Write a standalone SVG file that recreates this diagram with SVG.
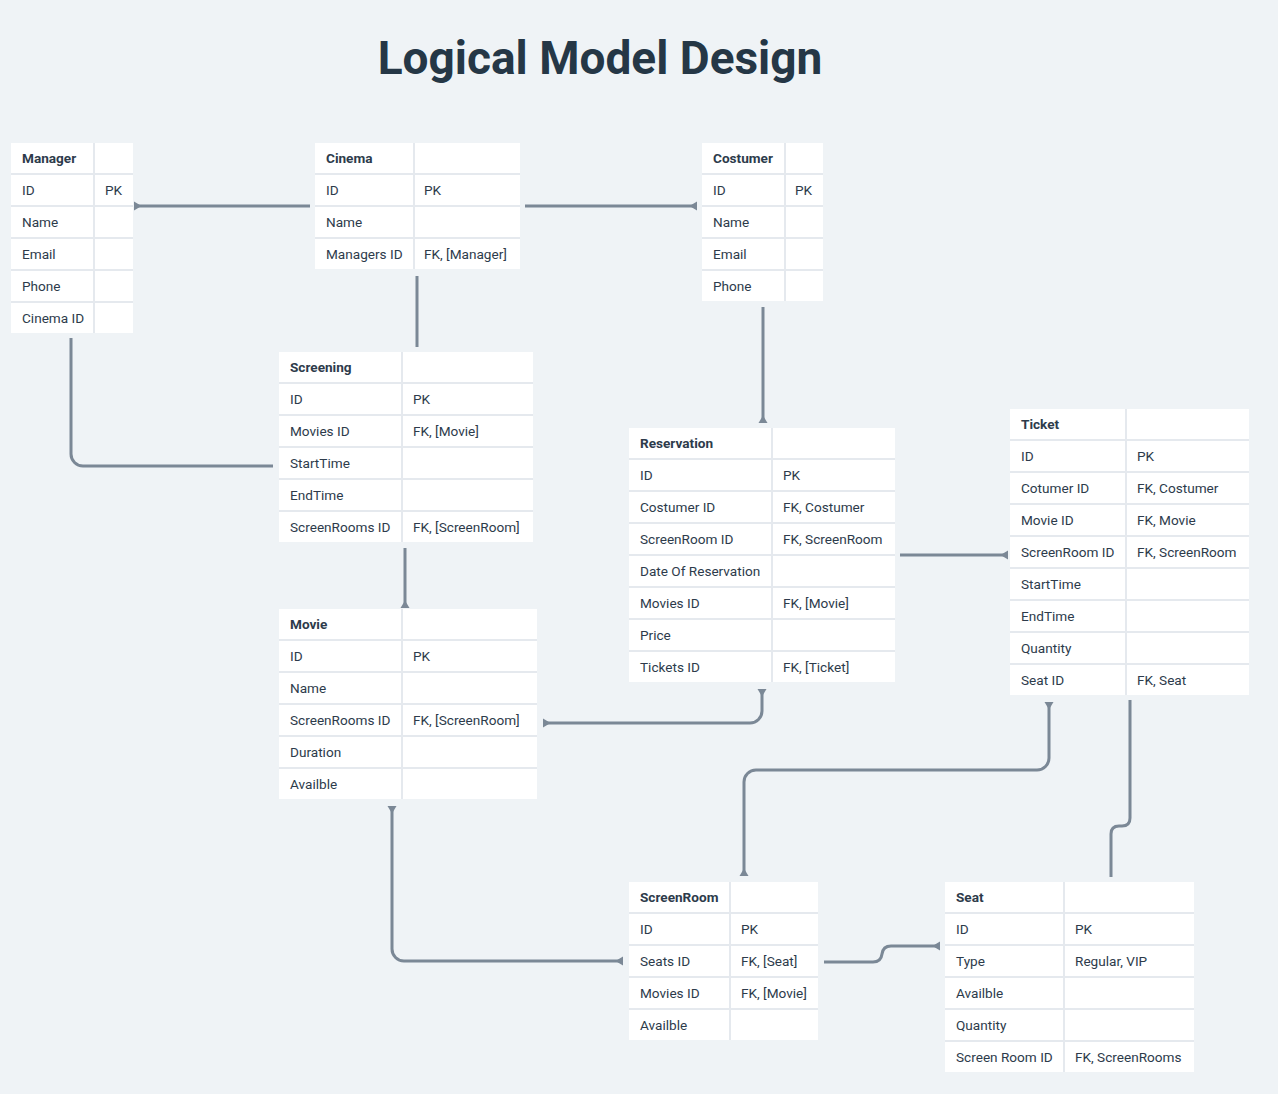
<svg xmlns="http://www.w3.org/2000/svg" width="1278" height="1094" viewBox="0 0 1278 1094">
<style>
.bg{fill:#eff3f6}
.tb{fill:#ffffff}
.g{stroke:#e5e9ee;stroke-width:2}
.t{font-family:Roboto,"Liberation Sans",sans-serif;font-size:13.6px;fill:#2d3b4b}
.h{font-weight:bold}
.title{font-family:Roboto,"Liberation Sans",sans-serif;font-size:46px;font-weight:bold;fill:#253746}
.c{fill:none;stroke:#7b8896;stroke-width:3}
</style>
<defs>
<marker id="one" markerUnits="userSpaceOnUse" markerWidth="20" markerHeight="20" refX="10" refY="10" orient="auto-start-reverse" overflow="visible">
<path d="M10,5.5 L10,14.5 L2.5,10 Z" fill="#7b8896"/>
</marker>
</defs>
<rect class="bg" x="0" y="0" width="1278" height="1094"/>
<text class="title" x="600" y="74" text-anchor="middle">Logical Model Design</text>

<g id="connectors">
<path class="c" d="M310,206 L134,206" marker-end="url(#one)"/>
<path class="c" d="M525,206 L697,206" marker-end="url(#one)"/>
<path class="c" d="M417,276 L417,347"/>
<path class="c" d="M71,338 L71,454 A12,12 0 0 0 83,466 L273,466"/>
<path class="c" d="M405,548 L405,608" marker-end="url(#one)"/>
<path class="c" d="M763,307 L763,423" marker-end="url(#one)"/>
<path class="c" d="M900,555 L1008,555" marker-end="url(#one)"/>
<path class="c" d="M762,689 L762,711 A12,12 0 0 1 750,723 L543,723" marker-start="url(#one)" marker-end="url(#one)"/>
<path class="c" d="M1049,702 L1049,758 A12,12 0 0 1 1037,770 L756,770 A12,12 0 0 0 744,782 L744,876" marker-start="url(#one)" marker-end="url(#one)"/>
<path class="c" d="M1130,700 L1130,818 Q1130,826 1122,826 L1119,826 Q1111,826 1111,834 L1111,877"/>
<path class="c" d="M392,806 L392,949 A12,12 0 0 0 404,961 L623,961" marker-start="url(#one)" marker-end="url(#one)"/>
<path class="c" d="M824,962 L873,962 Q881,962 882,954 Q883,946 891,946 L940,946" marker-end="url(#one)"/>
</g>

<g id="manager">
<rect class="tb" x="11" y="143" width="122" height="190"/>
<line class="g" x1="94" y1="143" x2="94" y2="333"/>
<line class="g" x1="11" y1="174" x2="133" y2="174"/>
<line class="g" x1="11" y1="206" x2="133" y2="206"/>
<line class="g" x1="11" y1="238" x2="133" y2="238"/>
<line class="g" x1="11" y1="270" x2="133" y2="270"/>
<line class="g" x1="11" y1="302" x2="133" y2="302"/>
<text class="t h" x="22" y="163">Manager</text>
<text class="t" x="22" y="195">ID</text><text class="t" x="105" y="195">PK</text>
<text class="t" x="22" y="227">Name</text>
<text class="t" x="22" y="259">Email</text>
<text class="t" x="22" y="291">Phone</text>
<text class="t" x="22" y="323">Cinema ID</text>
</g>

<g id="cinema">
<rect class="tb" x="315" y="143" width="205" height="126"/>
<line class="g" x1="414" y1="143" x2="414" y2="269"/>
<line class="g" x1="315" y1="174" x2="520" y2="174"/>
<line class="g" x1="315" y1="206" x2="520" y2="206"/>
<line class="g" x1="315" y1="238" x2="520" y2="238"/>
<text class="t h" x="326" y="163">Cinema</text>
<text class="t" x="326" y="195">ID</text><text class="t" x="424" y="195">PK</text>
<text class="t" x="326" y="227">Name</text>
<text class="t" x="326" y="259">Managers ID</text><text class="t" x="424" y="259">FK, [Manager]</text>
</g>

<g id="costumer">
<rect class="tb" x="702" y="143" width="121" height="158"/>
<line class="g" x1="785" y1="143" x2="785" y2="301"/>
<line class="g" x1="702" y1="174" x2="823" y2="174"/>
<line class="g" x1="702" y1="206" x2="823" y2="206"/>
<line class="g" x1="702" y1="238" x2="823" y2="238"/>
<line class="g" x1="702" y1="270" x2="823" y2="270"/>
<text class="t h" x="713" y="163">Costumer</text>
<text class="t" x="713" y="195">ID</text><text class="t" x="795" y="195">PK</text>
<text class="t" x="713" y="227">Name</text>
<text class="t" x="713" y="259">Email</text>
<text class="t" x="713" y="291">Phone</text>
</g>

<g id="screening">
<rect class="tb" x="279" y="352" width="254" height="190"/>
<line class="g" x1="402" y1="352" x2="402" y2="542"/>
<line class="g" x1="279" y1="383" x2="533" y2="383"/>
<line class="g" x1="279" y1="415" x2="533" y2="415"/>
<line class="g" x1="279" y1="447" x2="533" y2="447"/>
<line class="g" x1="279" y1="479" x2="533" y2="479"/>
<line class="g" x1="279" y1="511" x2="533" y2="511"/>
<text class="t h" x="290" y="372">Screening</text>
<text class="t" x="290" y="404">ID</text><text class="t" x="413" y="404">PK</text>
<text class="t" x="290" y="436">Movies ID</text><text class="t" x="413" y="436">FK, [Movie]</text>
<text class="t" x="290" y="468">StartTime</text>
<text class="t" x="290" y="500">EndTime</text>
<text class="t" x="290" y="532">ScreenRooms ID</text><text class="t" x="413" y="532">FK, [ScreenRoom]</text>
</g>

<g id="reservation">
<rect class="tb" x="629" y="428" width="266" height="254"/>
<line class="g" x1="772" y1="428" x2="772" y2="682"/>
<line class="g" x1="629" y1="459" x2="895" y2="459"/>
<line class="g" x1="629" y1="491" x2="895" y2="491"/>
<line class="g" x1="629" y1="523" x2="895" y2="523"/>
<line class="g" x1="629" y1="555" x2="895" y2="555"/>
<line class="g" x1="629" y1="587" x2="895" y2="587"/>
<line class="g" x1="629" y1="619" x2="895" y2="619"/>
<line class="g" x1="629" y1="651" x2="895" y2="651"/>
<text class="t h" x="640" y="448">Reservation</text>
<text class="t" x="640" y="480">ID</text><text class="t" x="783" y="480">PK</text>
<text class="t" x="640" y="512">Costumer ID</text><text class="t" x="783" y="512">FK, Costumer</text>
<text class="t" x="640" y="544">ScreenRoom ID</text><text class="t" x="783" y="544">FK, ScreenRoom</text>
<text class="t" x="640" y="576">Date Of Reservation</text>
<text class="t" x="640" y="608">Movies ID</text><text class="t" x="783" y="608">FK, [Movie]</text>
<text class="t" x="640" y="640">Price</text>
<text class="t" x="640" y="672">Tickets ID</text><text class="t" x="783" y="672">FK, [Ticket]</text>
</g>

<g id="ticket">
<rect class="tb" x="1010" y="409" width="239" height="286"/>
<line class="g" x1="1126" y1="409" x2="1126" y2="695"/>
<line class="g" x1="1010" y1="440" x2="1249" y2="440"/>
<line class="g" x1="1010" y1="472" x2="1249" y2="472"/>
<line class="g" x1="1010" y1="504" x2="1249" y2="504"/>
<line class="g" x1="1010" y1="536" x2="1249" y2="536"/>
<line class="g" x1="1010" y1="568" x2="1249" y2="568"/>
<line class="g" x1="1010" y1="600" x2="1249" y2="600"/>
<line class="g" x1="1010" y1="632" x2="1249" y2="632"/>
<line class="g" x1="1010" y1="664" x2="1249" y2="664"/>
<text class="t h" x="1021" y="429">Ticket</text>
<text class="t" x="1021" y="461">ID</text><text class="t" x="1137" y="461">PK</text>
<text class="t" x="1021" y="493">Cotumer ID</text><text class="t" x="1137" y="493">FK, Costumer</text>
<text class="t" x="1021" y="525">Movie ID</text><text class="t" x="1137" y="525">FK, Movie</text>
<text class="t" x="1021" y="557">ScreenRoom ID</text><text class="t" x="1137" y="557">FK, ScreenRoom</text>
<text class="t" x="1021" y="589">StartTime</text>
<text class="t" x="1021" y="621">EndTime</text>
<text class="t" x="1021" y="653">Quantity</text>
<text class="t" x="1021" y="685">Seat ID</text><text class="t" x="1137" y="685">FK, Seat</text>
</g>

<g id="movie">
<rect class="tb" x="279" y="609" width="258" height="190"/>
<line class="g" x1="402" y1="609" x2="402" y2="799"/>
<line class="g" x1="279" y1="640" x2="537" y2="640"/>
<line class="g" x1="279" y1="672" x2="537" y2="672"/>
<line class="g" x1="279" y1="704" x2="537" y2="704"/>
<line class="g" x1="279" y1="736" x2="537" y2="736"/>
<line class="g" x1="279" y1="768" x2="537" y2="768"/>
<text class="t h" x="290" y="629">Movie</text>
<text class="t" x="290" y="661">ID</text><text class="t" x="413" y="661">PK</text>
<text class="t" x="290" y="693">Name</text>
<text class="t" x="290" y="725">ScreenRooms ID</text><text class="t" x="413" y="725">FK, [ScreenRoom]</text>
<text class="t" x="290" y="757">Duration</text>
<text class="t" x="290" y="789">Availble</text>
</g>

<g id="screenroom">
<rect class="tb" x="629" y="882" width="189" height="158"/>
<line class="g" x1="730" y1="882" x2="730" y2="1040"/>
<line class="g" x1="629" y1="913" x2="818" y2="913"/>
<line class="g" x1="629" y1="945" x2="818" y2="945"/>
<line class="g" x1="629" y1="977" x2="818" y2="977"/>
<line class="g" x1="629" y1="1009" x2="818" y2="1009"/>
<text class="t h" x="640" y="902">ScreenRoom</text>
<text class="t" x="640" y="934">ID</text><text class="t" x="741" y="934">PK</text>
<text class="t" x="640" y="966">Seats ID</text><text class="t" x="741" y="966">FK, [Seat]</text>
<text class="t" x="640" y="998">Movies ID</text><text class="t" x="741" y="998">FK, [Movie]</text>
<text class="t" x="640" y="1030">Availble</text>
</g>

<g id="seat">
<rect class="tb" x="945" y="882" width="249" height="190"/>
<line class="g" x1="1064" y1="882" x2="1064" y2="1072"/>
<line class="g" x1="945" y1="913" x2="1194" y2="913"/>
<line class="g" x1="945" y1="945" x2="1194" y2="945"/>
<line class="g" x1="945" y1="977" x2="1194" y2="977"/>
<line class="g" x1="945" y1="1009" x2="1194" y2="1009"/>
<line class="g" x1="945" y1="1041" x2="1194" y2="1041"/>
<text class="t h" x="956" y="902">Seat</text>
<text class="t" x="956" y="934">ID</text><text class="t" x="1075" y="934">PK</text>
<text class="t" x="956" y="966">Type</text><text class="t" x="1075" y="966">Regular, VIP</text>
<text class="t" x="956" y="998">Availble</text>
<text class="t" x="956" y="1030">Quantity</text>
<text class="t" x="956" y="1062">Screen Room ID</text><text class="t" x="1075" y="1062">FK, ScreenRooms</text>
</g>
</svg>
